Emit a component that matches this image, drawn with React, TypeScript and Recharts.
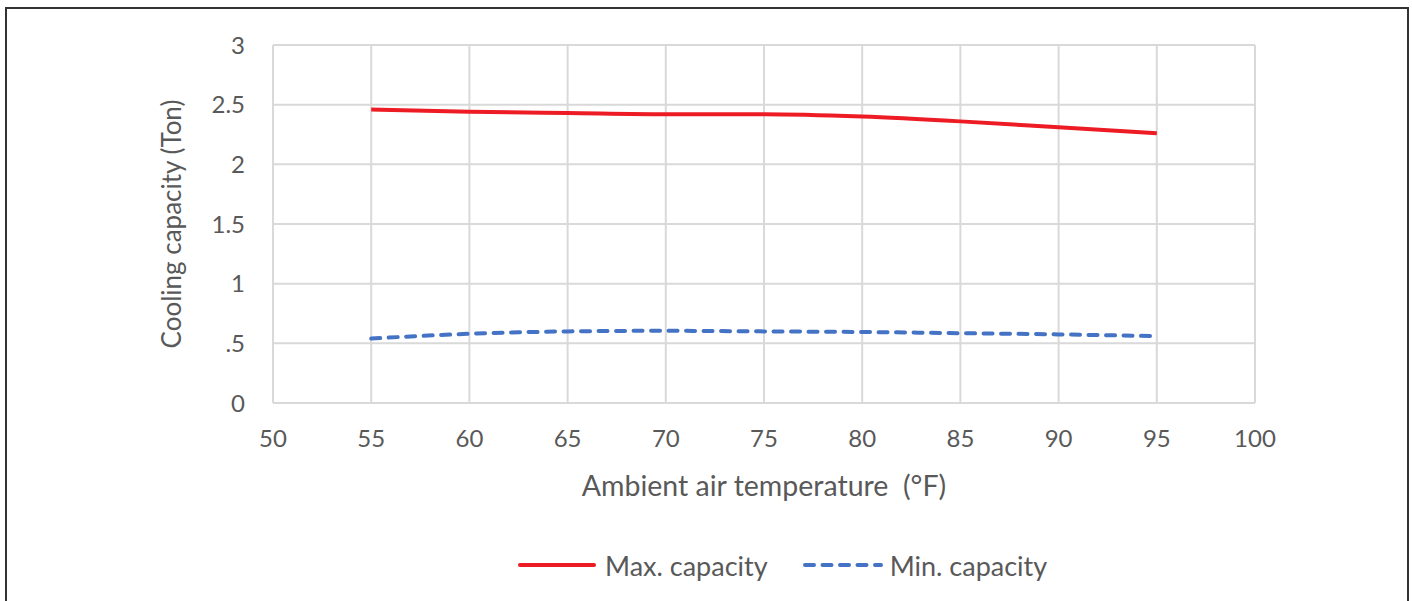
import React from 'react';
import { LineChart, Line, XAxis, YAxis, CartesianGrid, Legend } from 'recharts';

const temps = [55, 60, 65, 70, 75, 80, 85, 90, 95];
const maxCapacity = [2.46, 2.44, 2.43, 2.42, 2.42, 2.4, 2.36, 2.31, 2.26];
const minCapacity = [0.54, 0.58, 0.6, 0.605, 0.6, 0.595, 0.585, 0.575, 0.56];
const xTicks = [50, 55, 60, 65, 70, 75, 80, 85, 90, 95, 100];
const yTicks = [0, 0.5, 1, 1.5, 2, 2.5, 3];

const data = temps.map((t, i) => ({ temp: t, max: maxCapacity[i], min: minCapacity[i] }));

const FONT = 'Lato, "Noto Sans", sans-serif';
const TEXT = '#595959';

const LegendBox = () => (
  <div style={{ display: 'flex', alignItems: 'center', paddingLeft: 516, height: 30, fontFamily: FONT, fontSize: 27, color: TEXT }}>
    <svg width={82} height={10} style={{ marginRight: 7 }}>
      <line x1={4} y1={5} x2={78} y2={5} stroke="#ED1C24" strokeWidth={4} strokeLinecap="round" />
    </svg>
    <span style={{ marginRight: 33 }}>Max. capacity</span>
    <svg width={84} height={10} style={{ marginRight: 5 }}>
      <line x1={4} y1={5} x2={80} y2={5} stroke="#4472C4" strokeWidth={4} strokeLinecap="round" strokeDasharray="9 8.5" />
    </svg>
    <span>Min. capacity</span>
  </div>
);

export default function App() {
  return (
    <div style={{ position: 'absolute', left: 0, top: 0, width: 1412, height: 601, background: '#fff' }}>
      <div
        style={{
          position: 'absolute',
          left: 5,
          top: 7,
          width: 1400,
          height: 600,
          borderTop: '2px solid #333',
          borderLeft: '2px solid #333',
          borderRight: '2px solid #333',
        }}
      />
      <div style={{ position: 'absolute', left: 0, top: 0 }}>
        <LineChart
          width={1412}
          height={601}
          data={data}
          margin={{ top: 45, right: 157, left: 150, bottom: 68 }}
        >
          <CartesianGrid stroke="#d9d9d9" strokeWidth={2} />
          <XAxis
            dataKey="temp"
            type="number"
            domain={[50, 100]}
            ticks={xTicks}
            interval={0}
            axisLine={{ stroke: '#d9d9d9', strokeWidth: 2 }}
            tickLine={false}
            tick={{ fill: TEXT, fontSize: 24, fontFamily: FONT }}
            tickMargin={21}
            height={100}
            label={{ value: 'Ambient air temperature\u00a0\u00a0(°F)', position: 'insideBottom', offset: 7, fill: TEXT, fontSize: 28.5, fontFamily: FONT }}
          />
          <YAxis
            type="number"
            domain={[0, 3]}
            ticks={yTicks}
            interval={0}
            axisLine={false}
            tickLine={false}
            tick={{ fill: TEXT, fontSize: 24, fontFamily: FONT }}
            tickMargin={22}
            tickFormatter={(v: number) => (v === 0.5 ? '.5' : String(v))}
            width={123}
            label={{ value: 'Cooling capacity (Ton)', angle: -90, position: 'insideLeft', offset: 22, fill: TEXT, fontSize: 26, fontFamily: FONT, style: { textAnchor: 'middle' } }}
          />
          <Legend
            verticalAlign="bottom"
            content={() => <LegendBox />}
            wrapperStyle={{ left: 0, width: 1412, bottom: 21 }}
          />
          <Line
            type="monotone"
            dataKey="max"
            stroke="#ED1C24"
            strokeWidth={4}
            dot={false}
            isAnimationActive={false}
          />
          <Line
            type="monotone"
            dataKey="min"
            stroke="#4472C4"
            strokeWidth={4}
            strokeDasharray="9 8.5"
            strokeLinecap="round"
            dot={false}
            isAnimationActive={false}
          />
        </LineChart>
      </div>
    </div>
  );
}
